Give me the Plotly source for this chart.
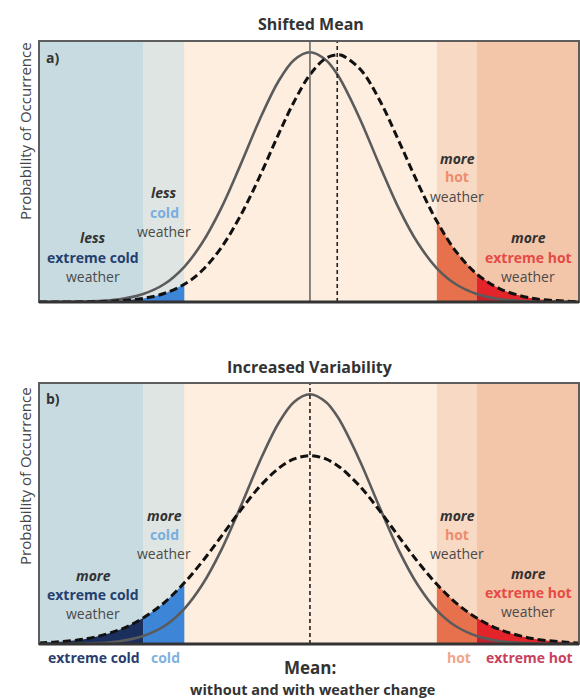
import plotly.graph_objects as go
from plotly.subplots import make_subplots

# ---------------- data (x in units of the original std. dev.) ----------------
x_grid = [-4.27, -4.0, -3.5, -3.0, -2.63, -2.3, -1.98, -1.7, -1.4, -1.1, -0.8, -0.5, -0.25, 0.0,
          0.25, 0.43, 0.5, 0.8, 1.1, 1.4, 1.7, 2.0, 2.3, 2.63, 3.0, 3.5, 4.0, 4.24]

# relative probability of occurrence (peak of the original distribution = 1)
before_a = [0.000, 0.0003, 0.002, 0.011, 0.032, 0.071, 0.141, 0.236, 0.375, 0.546, 0.726, 0.882, 0.969, 1.000,
            0.969, 0.912, 0.882, 0.726, 0.546, 0.375, 0.236, 0.135, 0.071, 0.032, 0.011, 0.002, 0.0003, 0.000]
after_a = [0.000, 0.0001, 0.001, 0.005, 0.014, 0.034, 0.071, 0.126, 0.217, 0.343, 0.498, 0.669, 0.802, 0.910,
           0.976, 0.990, 0.988, 0.930, 0.807, 0.645, 0.476, 0.323, 0.203, 0.112, 0.052, 0.015, 0.004, 0.002]
before_b = before_a
after_b = [0.004, 0.008, 0.022, 0.057, 0.104, 0.165, 0.245, 0.329, 0.430, 0.533, 0.628, 0.702, 0.741, 0.754,
           0.741, 0.715, 0.702, 0.628, 0.533, 0.430, 0.329, 0.239, 0.165, 0.104, 0.057, 0.022, 0.008, 0.004]

mean_before = 0.0
mean_after_a = 0.43
mean_after_b = 0.0

# category bands (boundaries on the x scale)
band_names = ["extreme cold", "cold", "normal", "hot", "extreme hot"]
band_edges = [-4.27, -2.63, -1.98, 2.0, 2.63, 4.24]
band_bg = ["#c8dbe1", "#dfe5e2", "#fdeee0", "#f8d9c4", "#f3c6aa"]
band_fill = ["#1b2f5e", "#3d85d6", None, "#e8714d", "#e3242b"]

x_range = [-4.27, 4.24]
y_range = [0, 1.045]

titles = ["Shifted Mean", "Increased Variability"]
panel_tags = ["a)", "b)"]
y_title = "Probability of Occurrence"

FONT = "Open Sans"

# ---------------- figure ----------------
fig = make_subplots(rows=2, cols=1, vertical_spacing=0.0)
W, H = 580, 698
L, R, T, B = 39, 1, 41, 54
PW, PH = W - L - R, H - T - B
top_a, bot_a = 41, 302
top_b, bot_b = 383, 644
fig.update_layout(
    yaxis=dict(domain=[(H - B - bot_a) / PH, (H - B - top_a) / PH]),
    yaxis2=dict(domain=[(H - B - bot_b) / PH, (H - B - top_b) / PH]),
)


def paper(px, py):
    return (px - L) / PW, (H - B - py) / PH


def subset(xs, ys, lo, hi):
    pts = [(a, b) for a, b in zip(xs, ys) if lo - 1e-9 <= a <= hi + 1e-9]
    return [p[0] for p in pts], [p[1] for p in pts]


panels = [(before_a, after_a, [mean_before, mean_after_a]), (before_b, after_b, [mean_after_b])]
for i, (before, after, means) in enumerate(panels):
    row = i + 1
    xr = "x" if row == 1 else "x2"
    yr = "y" if row == 1 else "y2"
    # background bands
    for k in range(len(band_names)):
        fig.add_shape(type="rect", xref=xr, yref=f"{yr} domain", x0=band_edges[k], x1=band_edges[k + 1],
                      y0=0, y1=1, fillcolor=band_bg[k], line_width=0, layer="below")
    # colored tails under the new distribution
    for k in range(len(band_names)):
        if band_fill[k] is None:
            continue
        fx, fy = subset(x_grid, after, band_edges[k], band_edges[k + 1])
        fig.add_trace(go.Scatter(x=fx, y=fy, mode="lines", fill="tozeroy", fillcolor=band_fill[k],
                                 line=dict(width=0, shape="spline", color=band_fill[k]),
                                 hoverinfo="skip", showlegend=False), row=row, col=1)
    # slight darkening under the old curve in the extreme-hot tail
    fx, fy = subset(x_grid, before, band_edges[4], band_edges[5])
    fig.add_trace(go.Scatter(x=fx, y=fy, mode="lines", fill="tozeroy", fillcolor="rgba(110,20,50,0.25)",
                             line=dict(width=0, shape="spline"), hoverinfo="skip", showlegend=False),
                  row=row, col=1)
    # curves
    fig.add_trace(go.Scatter(x=x_grid, y=before, mode="lines",
                             line=dict(color="#5b5b5b", width=2.6, shape="spline"),
                             hoverinfo="skip", showlegend=False), row=row, col=1)
    fig.add_trace(go.Scatter(x=x_grid, y=after, mode="lines",
                             line=dict(color="#111111", width=3, shape="spline", dash="8px,4px"),
                             hoverinfo="skip", showlegend=False), row=row, col=1)
    # mean lines
    if row == 1:
        fig.add_shape(type="line", xref=xr, yref=f"{yr} domain", x0=means[0], x1=means[0], y0=0, y1=1,
                      line=dict(color="#6a6a6a", width=1.6))
        fig.add_shape(type="line", xref=xr, yref=f"{yr} domain", x0=means[1], x1=means[1], y0=0, y1=1,
                      line=dict(color="#222222", width=1.6, dash="4px,3px"))
    else:
        fig.add_shape(type="line", xref=xr, yref=f"{yr} domain", x0=means[0], x1=means[0], y0=0, y1=1,
                      line=dict(color="#222222", width=1.6, dash="4px,3px"))
    # frame
    fig.add_shape(type="rect", xref=f"{xr} domain", yref=f"{yr} domain", x0=0, x1=1, y0=0, y1=1,
                  line=dict(color="#5e5e5e", width=2), layer="above")
    fig.add_shape(type="line", xref=f"{xr} domain", yref=f"{yr} domain", x0=0, x1=1, y0=0, y1=0,
                  line=dict(color="#333333", width=3), layer="above")

fig.update_xaxes(range=x_range, showticklabels=False, ticks="", showgrid=False, zeroline=False, showline=False)
fig.update_yaxes(range=y_range, showticklabels=False, ticks="", showgrid=False, zeroline=False, showline=False)
fig.update_xaxes(matches="x")


def note(px, py, text, size=14, color="#3a3a3a", **kw):
    x, y = paper(px, py)
    fig.add_annotation(x=x, y=y, xref="paper", yref="paper", text=text, showarrow=False,
                       xanchor=kw.get("xanchor", "center"), yanchor="middle", textangle=kw.get("angle", 0),
                       font=dict(family=FONT, size=size, color=color))


def block(px, py, word, label, color, step=19):
    note(px, py, f"<b><i>{word}</i></b>", color="#333333")
    note(px, py + step, f"<b>{label}</b>", color=color)
    note(px, py + 2 * step, "weather", color="#4a4a4a")


C_XC, C_C, C_H, C_XH = "#23406e", "#79aee0", "#ee8c6c", "#e64a45"

# titles
note(311, 24, f"<b>{titles[0]}</b>", size=16, color="#333333")
note(310, 367, f"<b>{titles[1]}</b>", size=16, color="#333333")
note(25, 131, y_title, size=15, color="#444444", angle=-90)
note(25, 476, y_title, size=15, color="#444444", angle=-90)
note(44, 58, f"<b>{panel_tags[0]}</b>", size=14, color="#333333", xanchor="left")
note(44, 398, f"<b>{panel_tags[1]}</b>", size=14, color="#333333", xanchor="left")

# panel a
block(93, 238, "less", "extreme cold", C_XC)
block(164, 193, "less", "cold", C_C)
block(457, 158, "more", "hot", C_H)
block(528, 238, "more", "extreme hot", C_XH)
# panel b
block(93, 575, "more", "extreme cold", C_XC)
block(164, 515, "more", "cold", C_C)
block(457, 515, "more", "hot", C_H)
block(528, 573, "more", "extreme hot", C_XH)

# bottom category labels
note(94, 657, f"<b>{band_names[0]}</b>", size=14, color="#2a3d6e")
note(165, 657, f"<b>{band_names[1]}</b>", size=14, color="#7fb1e0")
note(459, 657, f"<b>{band_names[3]}</b>", size=14, color="#f0a58a")
note(529, 657, f"<b>{band_names[4]}</b>", size=14, color="#c9405c")
note(310, 667, "<b>Mean:</b>", size=17, color="#333333")
note(312, 689, "<b>without and with weather change</b>", size=14.5, color="#333333")

fig.update_layout(width=W, height=H, margin=dict(l=L, r=R, t=T, b=B),
                  paper_bgcolor="white", plot_bgcolor="#fdeee0", showlegend=False,
                  font=dict(family=FONT))

fig.write_html("out.html", config={"displayModeBar": False},
               post_script="document.body.style.margin='0';document.body.style.overflow='hidden';")
